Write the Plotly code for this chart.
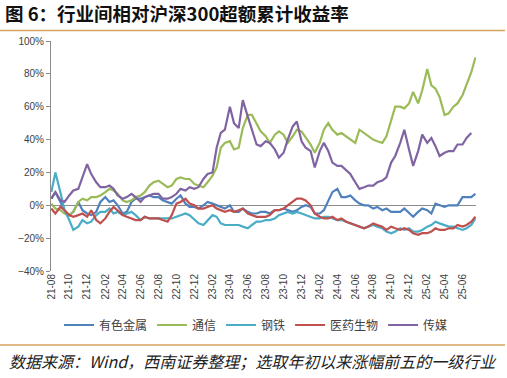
import plotly.graph_objects as go
import pandas as pd

W, H = 507, 378

# semi-monthly observation dates (1st and 15th), Aug 2021 - Jul 2025
dates = pd.date_range("2021-08-01", periods=96, freq="SMS")

series_names = ["有色金属", "通信", "钢铁", "医药生物", "传媒"]
series_colors = ["#4F81BD", "#9BBB59", "#4BACC6", "#C0504D", "#8064A2"]

metals = [4, 8, 2, -3, -6, -4, 2, -3, -5, -6, -4, 2, 5, 2, 3, 0, -5, -4, 2, 4, 4, 5, 6, 5,
          5, 3, 2, 1, 4, 6, 1, -1, -1, -2, 0, 2, 1, 0, -1, -2, 0, -4, -4, -2, -4, -5, -5, -4,
          -4, -5, -3, -3, -2, -3, -4, -3, -1, 0, -1, -5, -5, -3, 3, 8, 10, 5, 5, 6, 3, 1, 0, 0,
          -2, -1, -3, -2, -4, -4, -4, -2, -5, -7, -4, -2, -3, -5, 1, 0, -1, 0, 0, 0, 5, 5, 5, 7]

telecom = [1, -2, -3, -5, -6, -4, 2, 4, 3, 5, 5, 6, 8, 10, 9, 7, 3, 2, 3, 5, 6, 8, 12, 14,
           15, 13, 11, 12, 16, 17, 16, 16, 13, 12, 11, 14, 18, 23, 35, 38, 39, 34, 35, 47, 55, 55, 50, 45,
           42, 38, 43, 45, 43, 38, 42, 46, 45, 41, 37, 32, 38, 46, 50, 46, 43, 44, 42, 40, 38, 46, 44, 42,
           40, 39, 38, 42, 52, 60, 60, 59, 62, 69, 62, 70, 83, 73, 71, 66, 55, 56, 60, 62, 67, 74, 81, 90]

steel = [8, 20, 8, -3, -9, -15, -13, -9, -11, -10, -6, -4, -4, -2, -5, -4, -6, -5, -4, -6, -9, -7, -8, -8,
         -8, -8, -8, -8, -7, -6, -5, -6, -9, -11, -12, -9, -6, -7, -11, -12, -12, -12, -12, -13, -14, -12, -10, -10,
         -9, -9, -8, -6, -5, -4, -5, -4, -5, -6, -7, -8, -8, -7, -7, -8, -9, -9, -10, -11, -12, -13, -14, -13,
         -12, -13, -14, -16, -17, -16, -14, -15, -14, -16, -16, -15, -13, -12, -10, -11, -12, -13, -13, -14, -15, -14, -12, -8]

pharma = [-2, -5, -1, -3, -6, -7, -6, -5, -7, -3, -9, -11, -8, -4, -1, -3, -6, -7, -8, -9, -9, -7, -8, -8,
          -8, -9, -10, -6, 1, 2, 4, 1, 0, -2, -2, -1, 0, -2, -3, -4, -3, -4, -3, -2, -5, -6, -7, -7,
          -7, -6, -3, -3, -2, 0, 2, 4, 4, 3, 0, -5, -7, -8, -8, -7, -9, -8, -10, -11, -12, -13, -14, -13,
          -11, -12, -13, -15, -13, -14, -15, -14, -15, -17, -18, -17, -17, -16, -14, -15, -15, -14, -14, -12, -13, -12, -10, -7]

media = [4, 8, 3, 2, 6, 9, 10, 17, 25, 19, 14, 11, 11, 12, 10, 6, 4, 5, 7, 5, 2, 5, 6, 7,
         7, 4, 4, 5, 7, 10, 9, 11, 10, 11, 16, 19, 20, 35, 44, 46, 60, 50, 47, 64, 54, 46, 37, 36,
         39, 38, 34, 29, 32, 40, 48, 51, 39, 35, 33, 23, 33, 38, 33, 26, 24, 24, 21, 19, 14, 10, 11, 12,
         12, 14, 15, 17, 26, 30, 38, 46, 34, 24, 33, 43, 38, 41, 36, 30, 32, 33, 33, 37, 37, 41, 44, None]

all_series = [metals, telecom, steel, pharma, media]

tick_vals = ["2021-08-01", "2021-10-01", "2021-12-01", "2022-02-01", "2022-04-01", "2022-06-01",
             "2022-08-01", "2022-10-01", "2022-12-01", "2023-02-01", "2023-04-01", "2023-06-01",
             "2023-08-01", "2023-10-01", "2023-12-01", "2024-02-01", "2024-04-01", "2024-06-01",
             "2024-08-01", "2024-10-01", "2024-12-01", "2025-02-01", "2025-04-01", "2025-06-01"]
tick_text = ["21-08", "21-10", "21-12", "22-02", "22-04", "22-06", "22-08", "22-10", "22-12",
             "23-02", "23-04", "23-06", "23-08", "23-10", "23-12", "24-02", "24-04", "24-06",
             "24-08", "24-10", "24-12", "25-02", "25-04", "25-06"]
y_ticks = [-40, -20, 0, 20, 40, 60, 80, 100]

title_text = "图 6：行业间相对沪深300超额累计收益率"
source_text = "数据来源：Wind，西南证券整理；选取年初以来涨幅前五的一级行业"

fig = go.Figure()
for name, color, vals in zip(series_names, series_colors, all_series):
    fig.add_trace(go.Scatter(x=dates, y=vals, name=name, mode="lines",
                             line=dict(color=color, width=2.2), connectgaps=False))

def py(px):
    return 1 - px / H

fig.update_layout(
    width=W, height=H,
    margin=dict(l=0, r=0, t=0, b=0, autoexpand=False),
    paper_bgcolor="white", plot_bgcolor="white",
    showlegend=True,
    legend=dict(orientation="h", x=256 / W, xanchor="center", y=py(325), yanchor="middle",
                font=dict(family="Noto Sans CJK SC", size=12, color="#404040"),
                itemwidth=30, bgcolor="rgba(0,0,0,0)"),
    font=dict(family="Liberation Sans"),
)

fig.update_xaxes(
    type="date", automargin=False,
    domain=[51 / W, 476 / W],
    range=["2021-07-31", "2025-07-17"],
    tickmode="array", tickvals=tick_vals, ticktext=tick_text,
    tickangle=-90,
    tickfont=dict(family="Liberation Sans", size=10, color="#404040"),
    showgrid=False, showline=False, zeroline=False, ticks="",
)
fig.update_yaxes(
    automargin=False,
    domain=[py(271), py(41)],
    range=[-40, 100],
    tickmode="array", tickvals=y_ticks,
    ticktext=[("−" if v < 0 else "") + f"{abs(v)}%" for v in y_ticks],
    tickfont=dict(family="Liberation Sans", size=10, color="#404040"),
    showgrid=False, showline=True, linecolor="#8C8C8C", linewidth=1,
    ticks="outside", ticklen=4, tickcolor="#8C8C8C",
    zeroline=True, zerolinecolor="#8C8C8C", zerolinewidth=1,
)

# title and decorative rules
fig.add_annotation(text="<b>" + title_text + "</b>", xref="paper", yref="paper",
                   x=3 / W, y=py(13), xanchor="left", yanchor="middle", showarrow=False,
                   font=dict(family="Noto Sans CJK SC", size=18.5, color="#111111"))
fig.add_shape(type="line", xref="paper", yref="paper", x0=0, x1=505 / W, y0=py(30.5), y1=py(30.5),
              line=dict(color="#D9A35E", width=1.5))
fig.add_shape(type="line", xref="paper", yref="paper", x0=0, x1=505 / W, y0=py(345), y1=py(345),
              line=dict(color="#D9A35E", width=1.5))
fig.add_annotation(text="<i>" + source_text + "</i>", xref="paper", yref="paper",
                   x=7 / W, y=py(361), xanchor="left", yanchor="middle", showarrow=False,
                   font=dict(family="Noto Sans CJK SC", size=16, color="#222222"))

fig.write_html("out.html", config={"displayModeBar": False},
               post_script="document.body.style.margin='0';")
